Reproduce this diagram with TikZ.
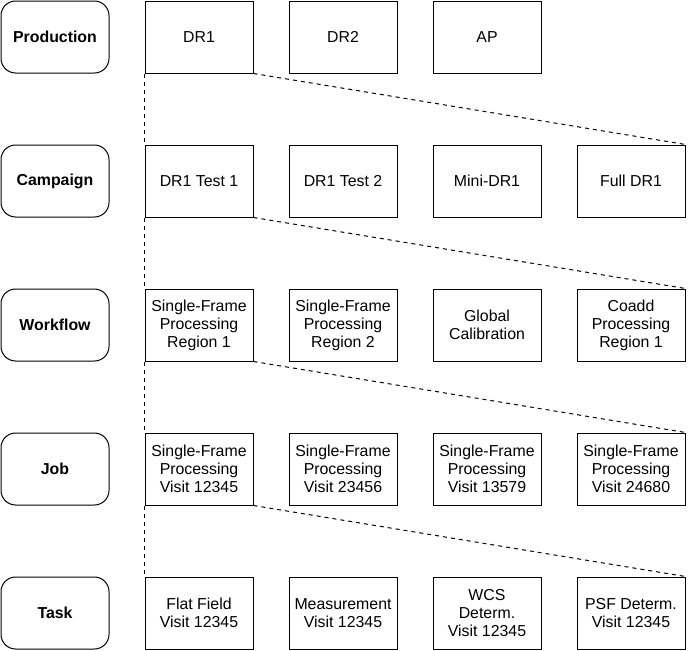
\documentclass[tikz,border=0pt]{standalone}
\usepackage{fontspec}
\setmainfont{Liberation Sans}

\begin{document}
\begin{tikzpicture}[x=0.75pt,y=-0.75pt,
  font=\fontsize{11.9pt}{13.5pt}\selectfont,
  level/.style={draw,line width=0.75pt,rounded corners=11pt,minimum width=81pt,minimum height=54pt,font=\fontsize{11.9pt}{13.5pt}\selectfont\bfseries},
  item/.style={draw,line width=0.75pt,minimum width=81pt,minimum height=54pt,inner sep=1pt,align=center},
  link/.style={line width=0.75pt,dash pattern=on 3pt off 3pt}]
  \useasboundingbox (0,0) rectangle (689,650);
  % levels
  \node[level] (prod) at (55,37) {Production};
  \node[level] (camp) at (55,181) {Campaign};
  \node[level] (wflow) at (55,325) {Workflow};
  \node[level] (job) at (55,469) {Job};
  \node[level] (task) at (55,613) {Task};
  % production
  \node[item] (dr1) at (199,37) {DR1};
  \node[item] (dr2) at (343,37) {DR2};
  \node[item] (ap) at (487,37) {AP};
  % campaign
  \node[item] (t1) at (199,181) {DR1 Test 1};
  \node[item] (t2) at (343,181) {DR1 Test 2};
  \node[item] (mini) at (487,181) {Mini-DR1};
  \node[item] (full) at (631,181) {Full DR1};
  % workflow
  \node[item] (sfr1) at (199,325) {Single-Frame\\Processing\\Region 1};
  \node[item] (sfr2) at (343,325) {Single-Frame\\Processing\\Region 2};
  \node[item] (gcal) at (487,325) {Global\\Calibration};
  \node[item] (coadd) at (631,325) {Coadd\\Processing\\Region 1};
  % job
  \node[item] (j1) at (199,469) {Single-Frame\\Processing\\Visit 12345};
  \node[item] (j2) at (343,469) {Single-Frame\\Processing\\Visit 23456};
  \node[item] (j3) at (487,469) {Single-Frame\\Processing\\Visit 13579};
  \node[item] (j4) at (631,469) {Single-Frame\\Processing\\Visit 24680};
  % task
  \node[item] (flat) at (199,613) {Flat Field\\Visit 12345};
  \node[item] (meas) at (343,613) {Measurement\\Visit 12345};
  \node[item] (wcs) at (487,613) {WCS\\Determ.\\Visit 12345};
  \node[item] (psf) at (631,613) {PSF Determ.\\Visit 12345};
  % expansions
  \draw[link] (dr1.south west) -- (t1.north west);
  \draw[link] (dr1.south east) -- (full.north east);
  \draw[link] (t1.south west) -- (sfr1.north west);
  \draw[link] (t1.south east) -- (coadd.north east);
  \draw[link] (sfr1.south west) -- (j1.north west);
  \draw[link] (sfr1.south east) -- (j4.north east);
  \draw[link] (j1.south west) -- (flat.north west);
  \draw[link] (j1.south east) -- (psf.north east);
\end{tikzpicture}
\end{document}
